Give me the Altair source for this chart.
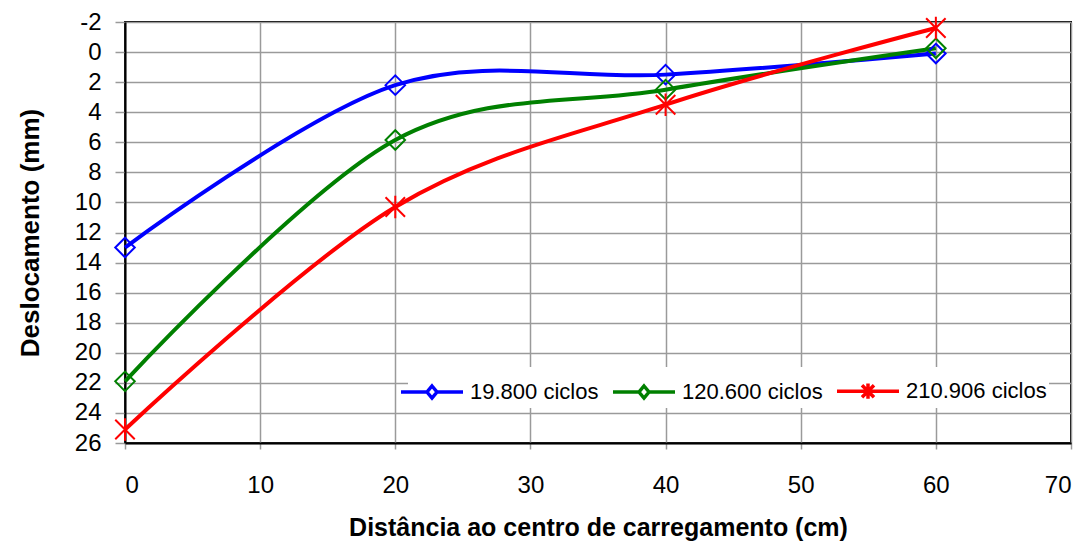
import altair as alt
import pandas as pd

# ---- data ----
distance_cm = [0, 20, 40, 60]
series_names = ["19.800 ciclos", "120.600 ciclos", "210.906 ciclos"]
desloc_19800 = [13.0, 2.2, 1.5, 0.1]
desloc_120600 = [21.9, 5.85, 2.5, -0.25]
desloc_210906 = [25.1, 10.3, 3.5, -1.6]
y_ticks = list(range(-2, 27, 2))
x_ticks = list(range(0, 71, 10))

rows = []
for name, vals in zip(series_names, [desloc_19800, desloc_120600, desloc_210906]):
    for x, y in zip(distance_cm, vals):
        rows.append({"dist": x, "desl": y, "serie": name})
df = pd.DataFrame(rows)

colors = ["#0000ff", "#008000", "#ff0000"]
diamond = "M0,-1L1,0L0,1L-1,0Z"
asterisk = "M-1,-1L1,1M-1,1L1,-1M0,-1.15L0,1.15"
leg_diamond = "M-1.55,0L-0.25,0M0.25,0L1.55,0M0,-0.3L0.25,0L0,0.3L-0.25,0Z"
leg_asterisk = "M-1.55,0L1.55,0M-0.3,-0.3L0.3,0.3M-0.3,0.3L0.3,-0.3M0,-0.38L0,0.38"

FONT = "Liberation Sans"

legend = alt.Legend(title=None, orient="none", legendX=283, legendY=345,
                    direction="horizontal", columns=3,
                    fillColor="white", padding=2,
                    symbolSize=1600, symbolStrokeWidth=3.5,
                    symbolOpacity=1, labelFontSize=22,
                    labelOffset=16, columnPadding=7,
                    labelColor="black", labelFont=FONT)

x_axis = alt.Axis(values=x_ticks, title="Distância ao centro de carregamento (cm)",
                  labelFontSize=24, labelPadding=24, tickSize=6,
                  labelOverlap=False,
                  titleFontSize=25, titlePadding=18)
y_axis = alt.Axis(values=y_ticks, title="Deslocamento (mm)",
                  labelExpr="'' + datum.value", labelOverlap=False,
                  labelFontSize=24, labelPadding=14, tickSize=10,
                  titleFontSize=26, titlePadding=31)
x_enc = alt.X("dist:Q", scale=alt.Scale(domain=[0, 70], nice=False), axis=x_axis)
y_enc = alt.Y("desl:Q", scale=alt.Scale(domain=[-2, 26], reverse=True, nice=False, zero=False),
              axis=y_axis)
color_enc = alt.Color("serie:N", scale=alt.Scale(domain=series_names, range=colors), legend=legend)
shape_enc = alt.Shape("serie:N", scale=alt.Scale(domain=series_names,
                                                 range=[leg_diamond, leg_diamond, leg_asterisk]),
                      legend=legend)

base = alt.Chart(df)

lines = base.mark_line(interpolate="cardinal", strokeWidth=4).encode(
    x=x_enc, y=y_enc, color=color_enc, detail="serie:N")

diamonds = base.transform_filter(alt.datum.serie != series_names[2]).mark_point(
    shape=diamond, size=380, filled=False, strokeWidth=2, opacity=1).encode(
    x=x_enc, y=y_enc, color=color_enc)

stars = base.transform_filter(alt.datum.serie == series_names[2]).mark_point(
    shape=asterisk, size=380, filled=False, strokeWidth=2, opacity=1).encode(
    x=x_enc, y=y_enc, color=color_enc)

legend_layer = base.mark_point(filled=False, opacity=0).encode(
    x=x_enc, y=y_enc, color=color_enc, shape=shape_enc)

chart = alt.layer(lines, diamonds, stars, legend_layer).properties(
    width=946, height=421,
    autosize=alt.AutoSizeParams(type="none"),
    padding={"left": 117, "top": 14, "right": 12, "bottom": 100},
    background="white",
).configure_view(
    stroke="black", strokeWidth=2
).configure_axis(
    labelFont=FONT, titleFont=FONT, labelColor="black", titleColor="black",
    titleFontWeight="bold", gridColor="#9a9a9a", gridWidth=1.5, gridOpacity=1,
    tickColor="#9a9a9a", tickWidth=1.5, domainColor="black", domainWidth=2,
    grid=True,
)

chart.save("out.html", embed_options={"renderer": "svg", "actions": False})
